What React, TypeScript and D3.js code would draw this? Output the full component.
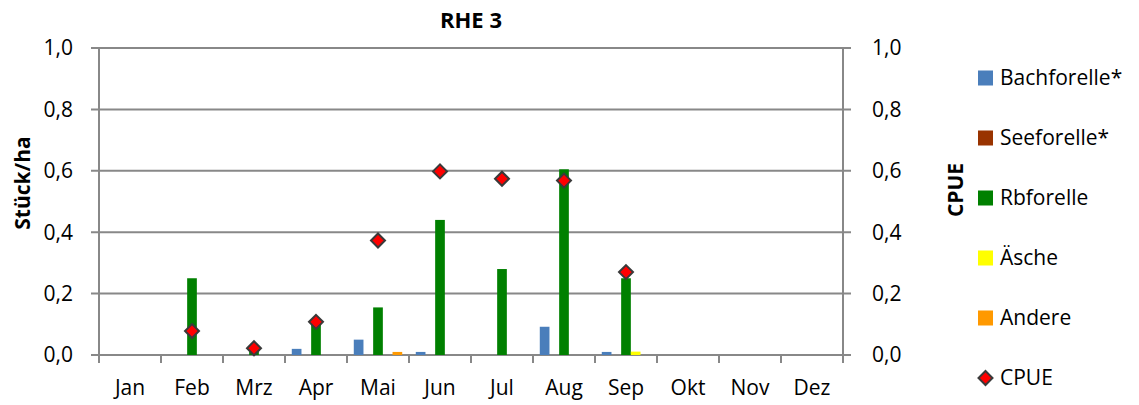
import * as d3 from 'd3';

const months = ['Jan', 'Feb', 'Mrz', 'Apr', 'Mai', 'Jun', 'Jul', 'Aug', 'Sep', 'Okt', 'Nov', 'Dez'];
const seriesNames = ['Bachforelle*', 'Seeforelle*', 'Rbforelle', 'Äsche', 'Andere'];
const seriesColors = ['#4a7ebb', '#993300', '#008000', '#ffff00', '#ff9900'];

const bachforelle = [0, 0, 0, 0.02, 0.05, 0.01, 0, 0.092, 0.01, 0, 0, 0];
const seeforelle = [0, 0, 0, 0, 0, 0, 0, 0, 0, 0, 0, 0];
const rbforelle = [0, 0.25, 0.02, 0.1, 0.155, 0.44, 0.28, 0.605, 0.25, 0, 0, 0];
const aesche = [0, 0, 0, 0, 0, 0, 0, 0, 0.011, 0, 0, 0];
const andere = [0, 0, 0, 0, 0.01, 0, 0, 0, 0, 0, 0, 0];
const cpue: (number | null)[] = [null, 0.078, 0.022, 0.108, 0.373, 0.598, 0.574, 0.568, 0.27, null, null, null];

const yTicks = [0, 0.2, 0.4, 0.6, 0.8, 1.0];

const W = 1139;
const H = 405;
const margin = { left: 99, right: 296, top: 48, bottom: 50 };
const font = '"Open Sans", sans-serif';
const fs = 21;

export default function App() {
  const innerW = W - margin.left - margin.right;
  const innerH = H - margin.top - margin.bottom;
  const series = [bachforelle, seeforelle, rbforelle, aesche, andere];

  const x = d3.scaleBand().domain(months).range([0, innerW]).paddingInner(0).paddingOuter(0);
  // bars of one month sit side by side, centred in the month
  const x1 = d3
    .scaleBand()
    .domain(seriesNames)
    .range([0, x.bandwidth()])
    .paddingOuter(0.7)
    .paddingInner(0);
  const y = d3.scaleLinear().domain([0, 1]).range([innerH, 0]);
  const fmt = (d: number) => d.toFixed(1).replace('.', ',');
  const diamond = (cx: number, cy: number, r: number) =>
    `M${cx},${cy - r}L${cx + r},${cy}L${cx},${cy + r}L${cx - r},${cy}Z`;

  const grid = '#888888';

  return (
    <svg width={W} height={H} style={{ position: 'absolute', left: 0, top: 0 }} fontFamily={font}>
      <rect width={W} height={H} fill="#fff" />
      <text x={471} y={28} textAnchor="middle" fontWeight="bold" fontSize={22}>
        RHE 3
      </text>
      <g transform={`translate(${margin.left},${margin.top})`}>
        {yTicks.map((t) => (
          <g key={t}>
            <line x1={-8} x2={innerW + 8} y1={y(t)} y2={y(t)} stroke={grid} strokeWidth={2} />
            <text x={-26} y={y(t)} dy="0.35em" textAnchor="end" fontSize={fs}>
              {fmt(t)}
            </text>
            <text x={innerW + 29} y={y(t)} dy="0.35em" textAnchor="start" fontSize={fs}>
              {fmt(t)}
            </text>
          </g>
        ))}
        <line x1={0} x2={0} y1={0} y2={innerH} stroke={grid} strokeWidth={2} />
        <line x1={innerW} x2={innerW} y1={0} y2={innerH} stroke={grid} strokeWidth={2} />
        {months.map((m, i) => (
          <g key={m}>
            <line
              x1={x(m)!}
              x2={x(m)!}
              y1={innerH}
              y2={innerH + 8}
              stroke={grid}
              strokeWidth={2}
            />
            {i === months.length - 1 && (
              <line
                x1={innerW}
                x2={innerW}
                y1={innerH}
                y2={innerH + 8}
                stroke={grid}
                strokeWidth={2}
              />
            )}
            <text x={x(m)! + x.bandwidth() / 2} y={innerH + 40} textAnchor="middle" fontSize={fs}>
              {m}
            </text>
          </g>
        ))}
        {series.map((vals, si) =>
          vals.map((v, mi) =>
            v > 0 ? (
              <rect
                key={`${si}-${mi}`}
                x={x(months[mi])! + x1(seriesNames[si])!}
                y={y(v)}
                width={x1.bandwidth()}
                height={innerH - y(v)}
                fill={seriesColors[si]}
              />
            ) : null
          )
        )}
        {cpue.map((v, mi) =>
          v == null ? null : (
            <path
              key={`c${mi}`}
              d={diamond(x(months[mi])! + x.bandwidth() / 2, y(v), 7)}
              fill="#ff0000"
              stroke="#3a3a3a"
              strokeWidth={2}
            />
          )
        )}
      </g>
      <text
        transform={`translate(30,${183}) rotate(-90)`}
        textAnchor="middle"
        fontWeight="bold"
        fontSize={fs}
      >
        Stück/ha
      </text>
      <text
        transform={`translate(963,${190}) rotate(-90)`}
        textAnchor="middle"
        fontWeight="bold"
        fontSize={fs}
      >
        CPUE
      </text>
      {seriesNames.map((n, i) => (
        <g key={n} transform={`translate(978,${78 + i * 60})`}>
          <rect x={0} y={-7.5} width={15} height={15} fill={seriesColors[i]} />
          <text x={22} y={0} dy="0.35em" fontSize={fs}>
            {n}
          </text>
        </g>
      ))}
      <g transform={`translate(978,${78 + 5 * 60})`}>
        <path d={diamond(7.5, 0, 7)} fill="#ff0000" stroke="#3a3a3a" strokeWidth={2} />
        <text x={22} y={0} dy="0.35em" fontSize={fs}>
          CPUE
        </text>
      </g>
    </svg>
  );
}
